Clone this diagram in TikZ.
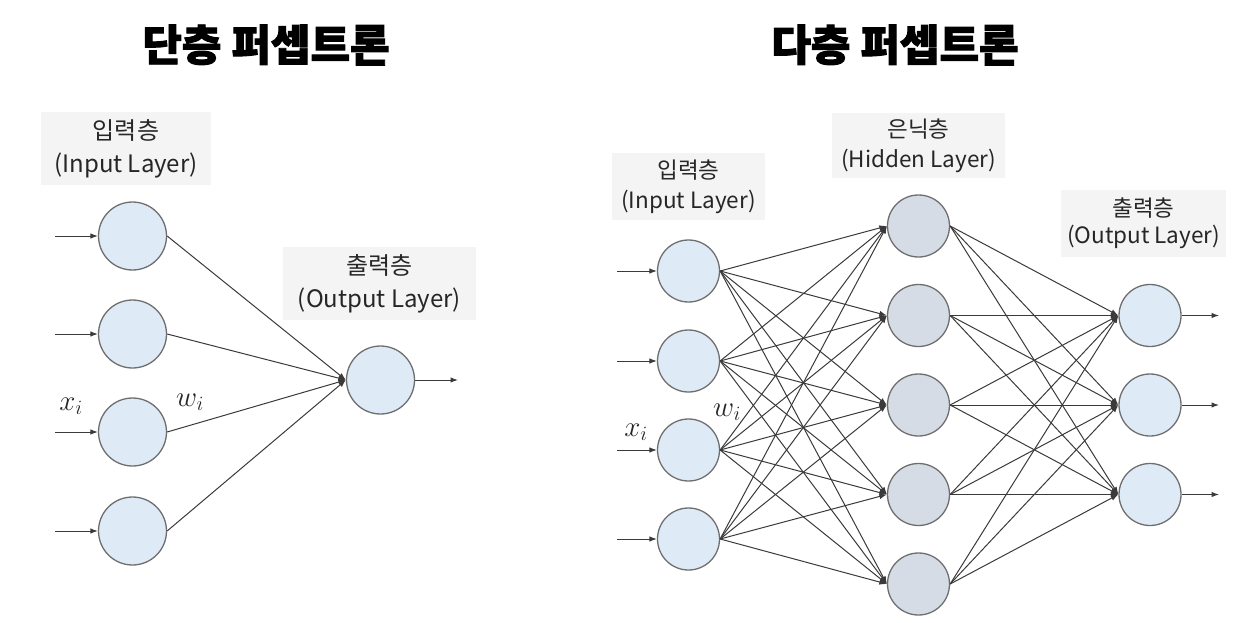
\RequirePackage{fix-cm}
\documentclass[tikz,border=0pt]{standalone}
\usepackage{fontspec}
\newfontfamily\kr{Noto Sans CJK KR}
\newfontfamily\krtitle{Noto Sans CJK KR}[BoldFeatures={FakeBold=2.2}]
\usetikzlibrary{arrows.meta}
\definecolor{inblue}{HTML}{DEEBF7}
\definecolor{hidgray}{HTML}{D6DCE5}
\definecolor{ringgray}{HTML}{6E6E6E}
\definecolor{wiregray}{HTML}{3A3A3A}
\definecolor{boxbg}{HTML}{F4F4F4}
\begin{document}
\begin{tikzpicture}[x=1pt,y=-1pt,
  neuronL/.style={circle,draw=ringgray,line width=1.3pt,inner sep=0pt,minimum size=68pt,fill=inblue},
  neuronR/.style={circle,draw=ringgray,line width=1.3pt,inner sep=0pt,minimum size=62pt,fill=inblue},
  hidden/.style={neuronR,fill=hidgray},
  wire/.style={draw=wiregray,line width=1pt,-{Latex[length=7.5pt,width=5.5pt]}},
  lblbox/.style={fill=boxbg,inner sep=0pt,align=center,text=black!85},
  title/.style={font=\krtitle\bfseries\fontsize{43}{47}\selectfont},
  mathlbl/.style={font=\fontsize{29}{33}\selectfont,inner sep=0pt,text=black!85}
]
\useasboundingbox (0,0) rectangle (1250,623);
% titles
\node[title] (t1) at (266,45) {단층 퍼셉트론};
\node[title] (t2) at (895,45) {다층 퍼셉트론};

% ---------- left network ----------
\node[lblbox,minimum width=170pt,minimum height=73pt,font=\kr\fontsize{24}{33}\selectfont] (lbin) at (126,148.5) {입력층\\(Input Layer)};
\node[lblbox,minimum width=193pt,minimum height=73pt,font=\kr\fontsize{24}{33}\selectfont] (lbout) at (379.5,283.5) {출력층\\(Output Layer)};
\foreach \k/\y in {1/236,2/334,3/432,4/531}{
  \node[neuronL] (li\k) at (132.5,\y) {};
  \coordinate (lin\k) at (55,\y);
  \draw[wire] (lin\k) -- (li\k);
}
\node[neuronL] (lo) at (380.5,380) {};
\coordinate (lout) at (458,380);
\draw[wire] (lo) -- (lout);
\foreach \k in {1,...,4}{
  \draw[wire] (li\k.east) -- (lo.west);
}
\node[mathlbl] (lx) at (71,406) {$x_i$};
\node[mathlbl] (lw) at (190,402) {$w_i$};

% ---------- right network ----------
\node[lblbox,minimum width=153pt,minimum height=67pt,font=\kr\fontsize{22.5}{30}\selectfont] (rbin) at (688.5,186.5) {입력층\\(Input Layer)};
\node[lblbox,minimum width=173pt,minimum height=65pt,font=\kr\fontsize{22.5}{30}\selectfont] (rbhid) at (918.5,145.5) {은닉층\\(Hidden Layer)};
\node[lblbox,minimum width=165pt,minimum height=67pt,font=\kr\fontsize{22.5}{27}\selectfont] (rbout) at (1143.5,223.5) {출력층\\(Output Layer)};
\foreach \k/\y in {1/271,2/361,3/450,4/539}{
  \node[neuronR] (ri\k) at (688.5,\y) {};
  \coordinate (rin\k) at (617,\y);
  \draw[wire] (rin\k) -- (ri\k);
}
\foreach \k/\y in {1/226,2/315.5,3/405,4/494.5,5/584}{
  \node[hidden] (rh\k) at (918.5,\y) {};
}
\foreach \k/\y in {1/315.5,2/405,3/494.5}{
  \node[neuronR] (ro\k) at (1150,\y) {};
  \coordinate (rout\k) at (1219,\y);
  \draw[wire] (ro\k) -- (rout\k);
}
\foreach \i in {1,...,4}{
  \foreach \j in {1,...,5}{
    \draw[wire] (ri\i.east) -- (rh\j.west);
  }
}
\foreach \i in {1,...,5}{
  \foreach \j in {1,...,3}{
    \draw[wire] (rh\i.east) -- (ro\j.west);
  }
}
\node[mathlbl] (rx) at (636,432) {$x_i$};
\node[mathlbl] (rw) at (727,412) {$w_i$};
\end{tikzpicture}
\end{document}
